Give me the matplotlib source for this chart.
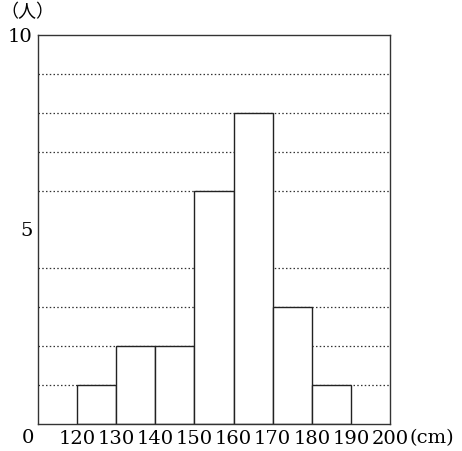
import matplotlib as mpl
mpl.use('Agg')
import matplotlib.pyplot as plt

# histogram data (height classes in cm, number of people)
bin_edges = [120, 130, 140, 150, 160, 170, 180, 190]
counts = [1, 2, 2, 6, 8, 3, 1]
xticks = [120, 130, 140, 150, 160, 170, 180, 190, 200]
grid_levels = [1, 2, 3, 4, 6, 7, 8, 9]
yticks = [5, 10]

fam = ['DejaVu Serif', 'Noto Sans CJK JP']

fig = plt.figure(figsize=(4.62, 4.51), dpi=100)
ax = fig.add_axes([38 / 462, 27 / 451, 352 / 462, 389 / 451])

for y in grid_levels:
    ax.axhline(y, color='#333333', lw=0.9, ls=(0, (1.2, 1.8)), zorder=1)

lefts = bin_edges[:-1]
widths = [b - a for a, b in zip(bin_edges[:-1], bin_edges[1:])]
ax.bar(lefts, counts, width=widths, align='edge', color='white',
       edgecolor='#222222', lw=1.0, zorder=2)

ax.set_xlim(110, 200)
ax.set_ylim(0, 10)
for s in ax.spines.values():
    s.set_color('#333333')
    s.set_linewidth(1.0)

ax.set_xticks(xticks)
ax.set_xticklabels([str(v) for v in xticks], family=fam, fontsize=14)
ax.set_yticks(yticks)
ax.set_yticklabels([str(v) for v in yticks], family=fam, fontsize=14)
ax.tick_params(length=0, pad=4)

# origin label and units
ax.text(-0.028, -0.012, '0', transform=ax.transAxes, ha='center', va='top',
        family=fam, fontsize=14)
ax.text(1.056, -0.012, '(cm)', transform=ax.transAxes, ha='left', va='top',
        family=fam, fontsize=14)
ax.text(-0.106, 1.058, '（人）', transform=ax.transAxes, ha='left', va='center',
        family=fam, fontsize=13)

fig.savefig('out.png', dpi=100)
